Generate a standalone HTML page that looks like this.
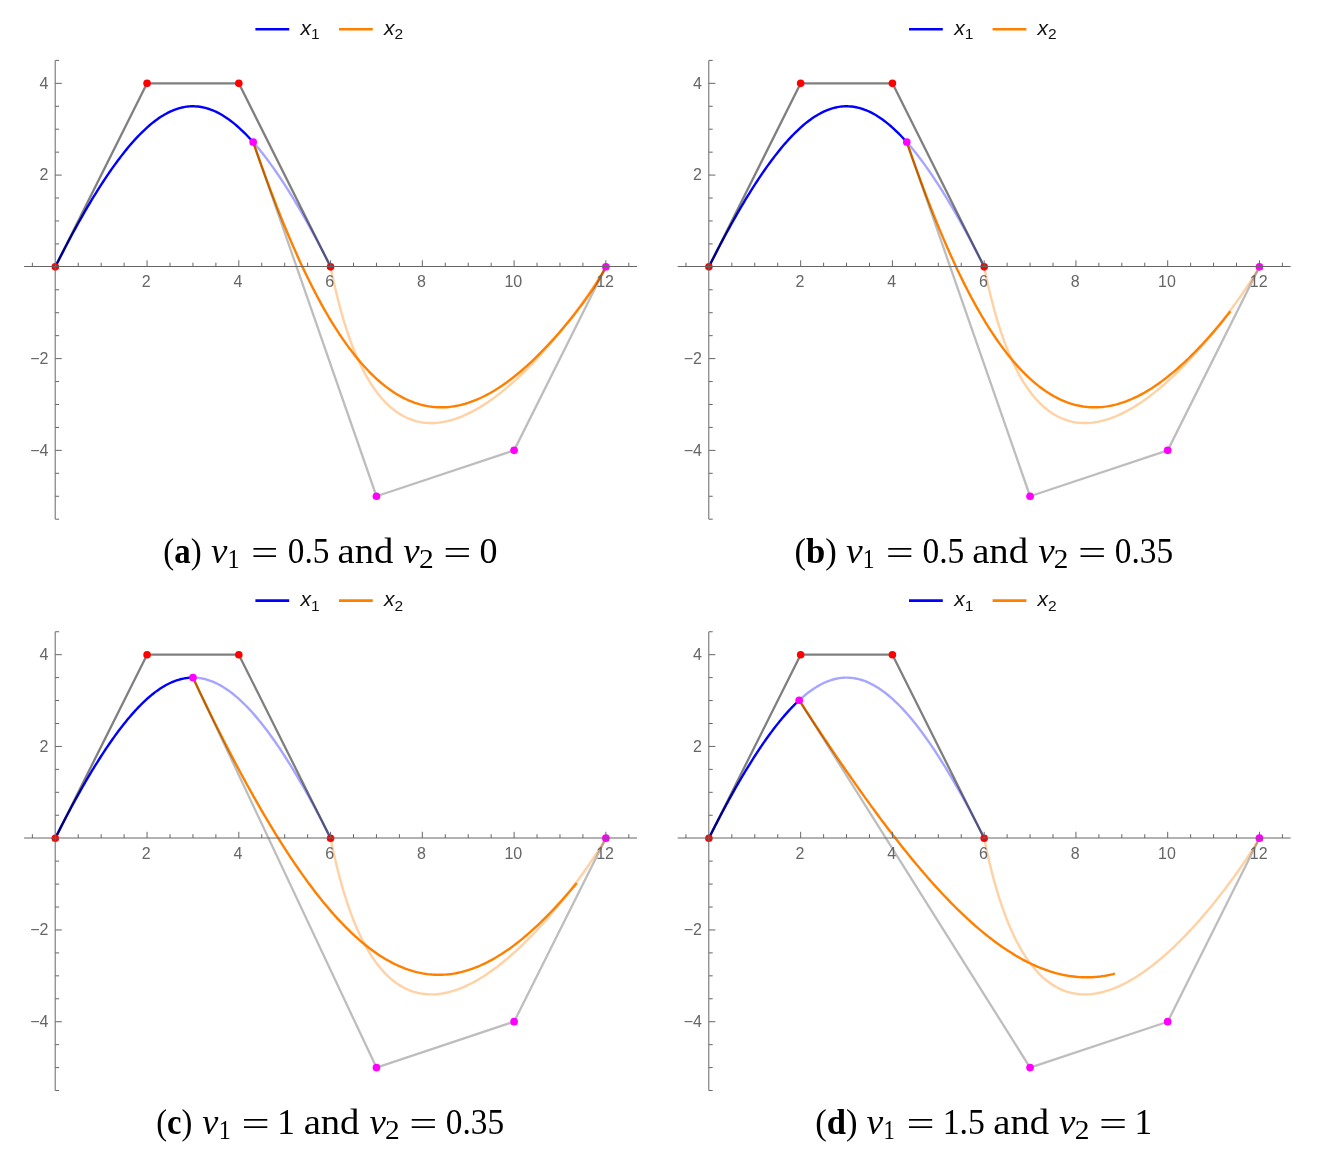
<!DOCTYPE html>
<html><head><meta charset="utf-8"><title>figure</title>
<style>
html,body{margin:0;padding:0;background:#fff}
svg{display:block}
.c{fill:none;stroke-width:2.4;stroke-linejoin:round;stroke-linecap:butt}
.p{fill:none;stroke-width:2.3;stroke-linejoin:round;stroke-linecap:butt}
.tk{font-family:"Liberation Sans",sans-serif;font-size:16px;fill:#666}
.lg{font-family:"Liberation Sans",sans-serif;font-size:21px;font-style:italic;fill:#111}
.lgs{font-size:15.5px;font-style:normal}
.cap{font-family:"Liberation Serif",serif;font-size:35.5px;fill:#000}
.sub{font-size:21px}
</style></head><body>
<svg width="1324" height="1166" viewBox="0 0 1324 1166">
<rect width="1324" height="1166" fill="#fff"/>
<g>
<path d="M253.16 142.11 L253.99 143.06 L254.83 144.03 L255.67 145.01 L256.52 146.00 L257.37 147.01 L258.22 148.03 L259.07 149.06 L259.93 150.11 L260.79 151.17 L261.65 152.25 L262.52 153.34 L263.38 154.45 L264.26 155.57 L265.13 156.71 L266.01 157.86 L266.89 159.03 L267.78 160.21 L268.67 161.41 L269.56 162.62 L270.45 163.84 L271.35 165.09 L272.25 166.34 L273.16 167.62 L274.07 168.91 L274.98 170.21 L275.90 171.53 L276.82 172.87 L277.74 174.22 L278.67 175.59 L279.60 176.97 L280.54 178.37 L281.47 179.79 L282.42 181.22 L283.36 182.67 L284.31 184.14 L285.27 185.62 L286.23 187.13 L287.19 188.64 L288.16 190.18 L289.13 191.73 L290.10 193.30 L291.08 194.88 L292.07 196.49 L293.05 198.11 L294.05 199.75 L295.04 201.41 L296.04 203.08 L297.05 204.77 L298.06 206.48 L299.07 208.21 L300.09 209.96 L301.11 211.73 L302.14 213.51 L303.17 215.32 L304.21 217.14 L305.25 218.98 L306.30 220.84 L307.35 222.72 L308.41 224.62 L309.47 226.54 L310.53 228.48 L311.60 230.43 L312.68 232.41 L313.76 234.41 L314.84 236.43 L315.93 238.46 L317.03 240.52 L318.13 242.60 L319.23 244.70 L320.35 246.82 L321.46 248.96 L322.58 251.12 L323.71 253.30 L324.84 255.51 L325.98 257.73 L327.12 259.98 L328.27 262.25 L329.42 264.54 L330.58 266.85" stroke="#0000ff" stroke-opacity="0.35" class="c"/>
<path d="M55.30 266.85 L57.60 262.27 L59.88 257.77 L62.14 253.36 L64.38 249.03 L66.60 244.79 L68.80 240.63 L70.97 236.55 L73.13 232.55 L75.27 228.62 L77.39 224.78 L79.48 221.01 L81.56 217.32 L83.63 213.71 L85.67 210.17 L87.69 206.70 L89.70 203.31 L91.69 199.98 L93.66 196.73 L95.62 193.55 L97.56 190.44 L99.48 187.39 L101.39 184.41 L103.28 181.50 L105.16 178.66 L107.02 175.88 L108.86 173.16 L110.69 170.51 L112.51 167.92 L114.31 165.39 L116.10 162.93 L117.87 160.52 L119.63 158.17 L121.38 155.89 L123.12 153.66 L124.84 151.49 L126.55 149.38 L128.25 147.32 L129.94 145.32 L131.61 143.38 L133.28 141.49 L134.93 139.66 L136.57 137.88 L138.21 136.15 L139.83 134.48 L141.44 132.85 L143.05 131.28 L144.64 129.77 L146.22 128.30 L147.80 126.88 L149.37 125.52 L150.93 124.20 L152.48 122.93 L154.03 121.71 L155.57 120.54 L157.10 119.42 L158.62 118.35 L160.14 117.32 L161.65 116.34 L163.16 115.41 L164.66 114.53 L166.15 113.69 L167.64 112.89 L169.13 112.15 L170.61 111.44 L172.08 110.79 L173.55 110.18 L175.02 109.61 L176.49 109.09 L177.95 108.61 L179.41 108.18 L180.87 107.79 L182.32 107.45 L183.77 107.15 L185.22 106.89 L186.67 106.68 L188.12 106.51 L189.57 106.39 L191.01 106.31 L192.46 106.27 L193.90 106.28 L195.35 106.33 L196.80 106.43 L198.24 106.56 L199.69 106.75 L201.14 106.97 L202.59 107.24 L204.05 107.56 L205.50 107.92 L206.96 108.32 L208.42 108.77 L209.88 109.26 L211.35 109.79 L212.82 110.37 L214.29 111.00 L215.77 111.67 L217.25 112.39 L218.74 113.15 L220.23 113.96 L221.72 114.82 L223.23 115.72 L224.73 116.66 L226.25 117.66 L227.77 118.70 L229.29 119.79 L230.83 120.93 L232.37 122.11 L233.91 123.35 L235.47 124.63 L237.03 125.97 L238.60 127.35 L240.18 128.78 L241.77 130.27 L243.37 131.80 L244.98 133.39 L246.59 135.03 L248.22 136.72 L249.85 138.46 L251.50 140.26 L253.16 142.11" stroke="#0000ff" class="c"/>
<path d="M330.58 266.85 L331.64 272.04 L332.72 277.16 L333.82 282.19 L334.94 287.15 L336.09 292.03 L337.26 296.83 L338.45 301.55 L339.67 306.18 L340.90 310.73 L342.17 315.20 L343.45 319.59 L344.76 323.89 L346.10 328.10 L347.45 332.22 L348.83 336.26 L350.24 340.21 L351.67 344.07 L353.12 347.85 L354.59 351.53 L356.09 355.12 L357.62 358.62 L359.16 362.03 L360.74 365.35 L362.33 368.58 L363.95 371.71 L365.59 374.76 L367.26 377.70 L368.94 380.56 L370.66 383.32 L372.39 385.99 L374.15 388.57 L375.93 391.05 L377.74 393.44 L379.56 395.73 L381.41 397.93 L383.28 400.03 L385.17 402.05 L387.09 403.96 L389.02 405.79 L390.98 407.52 L392.96 409.16 L394.96 410.70 L396.98 412.15 L399.02 413.51 L401.08 414.78 L403.15 415.95 L405.25 417.03 L407.37 418.02 L409.51 418.93 L411.66 419.74 L413.83 420.46 L416.02 421.09 L418.23 421.63 L420.45 422.08 L422.69 422.45 L424.94 422.73 L427.21 422.92 L429.50 423.03 L431.80 423.05 L434.11 422.99 L436.44 422.85 L438.78 422.62 L441.13 422.31 L443.49 421.92 L445.87 421.45 L448.26 420.91 L450.65 420.28 L453.06 419.58 L455.48 418.81 L457.90 417.96 L460.33 417.03 L462.77 416.04 L465.22 414.97 L467.67 413.84 L470.13 412.63 L472.60 411.36 L475.06 410.02 L477.53 408.62 L480.01 407.16 L482.48 405.63 L484.96 404.05 L487.44 402.40 L489.91 400.70 L492.39 398.95 L494.87 397.13 L497.34 395.27 L499.81 393.36 L502.27 391.40 L504.73 389.39 L507.19 387.33 L509.64 385.24 L512.08 383.10 L514.51 380.92 L516.93 378.70 L519.35 376.45 L521.75 374.16 L524.14 371.84 L526.52 369.49 L528.88 367.11 L531.23 364.70 L533.57 362.27 L535.89 359.82 L538.19 357.35 L540.47 354.87 L542.73 352.36 L544.98 349.85 L547.20 347.32 L549.40 344.79 L551.57 342.24 L553.72 339.70 L555.85 337.15 L557.95 334.61 L560.02 332.07 L562.06 329.54 L564.07 327.01 L566.05 324.50 L568.00 322.00 L569.91 319.52 L571.79 317.05 L573.64 314.61 L575.44 312.19 L577.21 309.81 L578.94 307.45 L580.63 305.12 L582.28 302.84 L583.88 300.59 L585.44 298.38 L586.96 296.22 L588.43 294.10 L589.85 292.04 L591.21 290.03 L592.53 288.08 L593.80 286.19 L595.01 284.36 L596.17 282.60 L597.28 280.91 L598.32 279.30 L599.31 277.76 L600.23 276.30 L601.10 274.92 L601.90 273.63 L602.63 272.43 L603.30 271.32 L603.91 270.31 L604.44 269.41 L604.91 268.60 L605.30 267.91 L605.62 267.32 L605.86 266.85" stroke="#ff8000" stroke-opacity="0.36" class="c"/>
<path d="M253.16 142.10 L255.13 147.76 L257.15 153.48 L259.19 159.26 L261.27 165.07 L263.38 170.92 L265.53 176.80 L267.70 182.70 L269.91 188.61 L272.14 194.53 L274.40 200.44 L276.69 206.35 L279.01 212.24 L281.35 218.11 L283.72 223.96 L286.12 229.77 L288.54 235.55 L290.98 241.28 L293.44 246.97 L295.93 252.60 L298.44 258.17 L300.97 263.68 L303.52 269.13 L306.09 274.50 L308.67 279.80 L311.28 285.02 L313.90 290.16 L316.54 295.22 L319.20 300.18 L321.87 305.05 L324.55 309.83 L327.25 314.51 L329.97 319.08 L332.69 323.56 L335.43 327.93 L338.18 332.19 L340.94 336.35 L343.71 340.39 L346.50 344.32 L349.29 348.13 L352.09 351.83 L354.90 355.42 L357.71 358.88 L360.54 362.23 L363.36 365.45 L366.20 368.56 L369.04 371.54 L371.89 374.40 L374.74 377.15 L377.59 379.76 L380.45 382.26 L383.31 384.63 L386.17 386.88 L389.04 389.01 L391.91 391.02 L394.77 392.91 L397.64 394.67 L400.51 396.32 L403.37 397.85 L406.24 399.25 L409.10 400.54 L411.96 401.72 L414.82 402.78 L417.68 403.72 L420.53 404.55 L423.38 405.27 L426.22 405.88 L429.06 406.38 L431.89 406.77 L434.72 407.06 L437.54 407.24 L440.35 407.32 L443.16 407.30 L445.96 407.18 L448.75 406.96 L451.53 406.65 L454.31 406.24 L457.07 405.74 L459.83 405.16 L462.57 404.49 L465.31 403.73 L468.03 402.89 L470.74 401.97 L473.44 400.97 L476.13 399.90 L478.80 398.75 L481.47 397.53 L484.11 396.24 L486.75 394.89 L489.37 393.47 L491.97 391.98 L494.56 390.44 L497.14 388.85 L499.70 387.19 L502.24 385.49 L504.77 383.73 L507.28 381.93 L509.77 380.08 L512.24 378.19 L514.70 376.26 L517.14 374.29 L519.55 372.28 L521.95 370.24 L524.33 368.17 L526.69 366.07 L529.03 363.94 L531.35 361.78 L533.64 359.61 L535.92 357.41 L538.17 355.19 L540.40 352.96 L542.61 350.71 L544.79 348.45 L546.95 346.18 L549.09 343.90 L551.20 341.61 L553.29 339.32 L555.35 337.02 L557.39 334.72 L559.40 332.42 L561.39 330.12 L563.35 327.82 L565.28 325.53 L567.18 323.23 L569.06 320.95 L570.91 318.67 L572.73 316.39 L574.52 314.13 L576.29 311.87 L578.02 309.63 L579.72 307.39 L581.39 305.17 L583.04 302.95 L584.65 300.75 L586.23 298.56 L587.77 296.38 L589.29 294.21 L590.77 292.05 L592.22 289.91 L593.64 287.78 L595.02 285.65 L596.37 283.54 L597.68 281.43 L598.96 279.33 L600.20 277.24 L601.40 275.16 L602.57 273.08 L603.71 271.00 L604.80 268.93 L605.86 266.85" stroke="#ff8000" class="c"/>
<path d="M55.30 266.85 L147.06 83.33 L238.82 83.33 L330.58 266.85" stroke="#000" stroke-opacity="0.5" class="p"/>
<path d="M253.16 142.11 L376.46 496.25 L514.10 450.37 L605.86 266.85" stroke="#000" stroke-opacity="0.26" class="p"/>
<circle cx="55.30" cy="266.85" r="3.8" fill="#f00"/>
<circle cx="147.06" cy="83.33" r="3.8" fill="#f00"/>
<circle cx="238.82" cy="83.33" r="3.8" fill="#f00"/>
<circle cx="330.58" cy="266.85" r="3.8" fill="#f00"/>
<circle cx="253.16" cy="142.11" r="3.85" fill="#f0f"/>
<circle cx="376.46" cy="496.25" r="3.85" fill="#f0f"/>
<circle cx="514.10" cy="450.37" r="3.85" fill="#f0f"/>
<circle cx="605.86" cy="266.85" r="3.85" fill="#f0f"/>
<path d="M24.10 266.50H637.06M55.20 60.39V519.19M32.36 266.50v-3.80M78.24 266.50v-3.80M101.18 266.50v-3.80M124.12 266.50v-3.80M147.06 266.50v-6.20M170.00 266.50v-3.80M192.94 266.50v-3.80M215.88 266.50v-3.80M238.82 266.50v-6.20M261.76 266.50v-3.80M284.70 266.50v-3.80M307.64 266.50v-3.80M330.58 266.50v-6.20M353.52 266.50v-3.80M376.46 266.50v-3.80M399.40 266.50v-3.80M422.34 266.50v-6.20M445.28 266.50v-3.80M468.22 266.50v-3.80M491.16 266.50v-3.80M514.10 266.50v-6.20M537.04 266.50v-3.80M559.98 266.50v-3.80M582.92 266.50v-3.80M605.86 266.50v-6.20M628.80 266.50v-3.80M55.30 519.19h3.80M55.30 496.25h3.80M55.30 473.31h3.80M55.30 450.37h6.50M55.30 427.43h3.80M55.30 404.49h3.80M55.30 381.55h3.80M55.30 358.61h6.50M55.30 335.67h3.80M55.30 312.73h3.80M55.30 289.79h3.80M55.30 243.91h3.80M55.30 220.97h3.80M55.30 198.03h3.80M55.30 175.09h6.50M55.30 152.15h3.80M55.30 129.21h3.80M55.30 106.27h3.80M55.30 83.33h6.50M55.30 60.39h3.80" stroke="#666" stroke-width="1" fill="none"/>
<text x="146.26" y="287.15" text-anchor="middle" class="tk">2</text>
<text x="238.02" y="287.15" text-anchor="middle" class="tk">4</text>
<text x="329.78" y="287.15" text-anchor="middle" class="tk">6</text>
<text x="421.54" y="287.15" text-anchor="middle" class="tk">8</text>
<text x="513.30" y="287.15" text-anchor="middle" class="tk">10</text>
<text x="605.06" y="287.15" text-anchor="middle" class="tk">12</text>
<text x="48.40" y="88.63" text-anchor="end" class="tk">4</text>
<text x="48.40" y="180.39" text-anchor="end" class="tk">2</text>
<text x="48.40" y="363.91" text-anchor="end" class="tk">−2</text>
<text x="48.40" y="455.67" text-anchor="end" class="tk">−4</text>
<path d="M255.40 29.25h33.8" stroke="#0000ff" stroke-width="2.6" fill="none"/>
<path d="M339.00 29.25h33.8" stroke="#ff8000" stroke-width="2.6" fill="none"/>
<text x="300.60" y="35.05" class="lg">x<tspan class="lgs" dy="4.2">1</tspan></text>
<text x="384.00" y="35.05" class="lg">x<tspan class="lgs" dy="4.2">2</tspan></text>
<text x="163.32" y="562.70" textLength="38.29" lengthAdjust="spacingAndGlyphs" class="cap">(<tspan font-weight="bold">a</tspan>)</text>
<text x="210.95" y="562.70" textLength="16.41" lengthAdjust="spacingAndGlyphs" class="cap" font-style="italic">v</text>
<text x="227.59" y="568.10" textLength="12.06" lengthAdjust="spacingAndGlyphs" class="cap" style="font-size:27.8px">1</text>
<text x="251.07" y="564.70" textLength="27.41" lengthAdjust="spacingAndGlyphs" class="cap">=</text>
<text x="287.85" y="562.70" textLength="41.58" lengthAdjust="spacingAndGlyphs" class="cap">0.5</text>
<text x="337.55" y="562.70" textLength="55.79" lengthAdjust="spacingAndGlyphs" class="cap">and</text>
<text x="403.35" y="562.70" textLength="16.41" lengthAdjust="spacingAndGlyphs" class="cap" font-style="italic">v</text>
<text x="418.97" y="568.10" textLength="14.75" lengthAdjust="spacingAndGlyphs" class="cap" style="font-size:27.8px">2</text>
<text x="443.21" y="564.70" textLength="28.14" lengthAdjust="spacingAndGlyphs" class="cap">=</text>
<text x="479.45" y="562.70" textLength="18.00" lengthAdjust="spacingAndGlyphs" class="cap">0</text>
</g>
<g>
<path d="M906.76 142.11 L907.59 143.06 L908.43 144.03 L909.27 145.01 L910.12 146.00 L910.97 147.01 L911.82 148.03 L912.67 149.06 L913.53 150.11 L914.39 151.17 L915.25 152.25 L916.12 153.34 L916.98 154.45 L917.86 155.57 L918.73 156.71 L919.61 157.86 L920.49 159.03 L921.38 160.21 L922.27 161.41 L923.16 162.62 L924.05 163.84 L924.95 165.09 L925.85 166.34 L926.76 167.62 L927.67 168.91 L928.58 170.21 L929.50 171.53 L930.42 172.87 L931.34 174.22 L932.27 175.59 L933.20 176.97 L934.14 178.37 L935.07 179.79 L936.02 181.22 L936.96 182.67 L937.91 184.14 L938.87 185.62 L939.83 187.13 L940.79 188.64 L941.76 190.18 L942.73 191.73 L943.70 193.30 L944.68 194.88 L945.67 196.49 L946.65 198.11 L947.65 199.75 L948.64 201.41 L949.64 203.08 L950.65 204.77 L951.66 206.48 L952.67 208.21 L953.69 209.96 L954.71 211.73 L955.74 213.51 L956.77 215.32 L957.81 217.14 L958.85 218.98 L959.90 220.84 L960.95 222.72 L962.01 224.62 L963.07 226.54 L964.13 228.48 L965.20 230.43 L966.28 232.41 L967.36 234.41 L968.44 236.43 L969.53 238.46 L970.63 240.52 L971.73 242.60 L972.83 244.70 L973.95 246.82 L975.06 248.96 L976.18 251.12 L977.31 253.30 L978.44 255.51 L979.58 257.73 L980.72 259.98 L981.87 262.25 L983.02 264.54 L984.18 266.85" stroke="#0000ff" stroke-opacity="0.35" class="c"/>
<path d="M708.90 266.85 L711.20 262.27 L713.48 257.77 L715.74 253.36 L717.98 249.03 L720.20 244.79 L722.40 240.63 L724.57 236.55 L726.73 232.55 L728.87 228.62 L730.99 224.78 L733.08 221.01 L735.16 217.32 L737.23 213.71 L739.27 210.17 L741.29 206.70 L743.30 203.31 L745.29 199.98 L747.26 196.73 L749.22 193.55 L751.16 190.44 L753.08 187.39 L754.99 184.41 L756.88 181.50 L758.76 178.66 L760.62 175.88 L762.46 173.16 L764.29 170.51 L766.11 167.92 L767.91 165.39 L769.70 162.93 L771.47 160.52 L773.23 158.17 L774.98 155.89 L776.72 153.66 L778.44 151.49 L780.15 149.38 L781.85 147.32 L783.54 145.32 L785.21 143.38 L786.88 141.49 L788.53 139.66 L790.17 137.88 L791.81 136.15 L793.43 134.48 L795.04 132.85 L796.65 131.28 L798.24 129.77 L799.82 128.30 L801.40 126.88 L802.97 125.52 L804.53 124.20 L806.08 122.93 L807.63 121.71 L809.17 120.54 L810.70 119.42 L812.22 118.35 L813.74 117.32 L815.25 116.34 L816.76 115.41 L818.26 114.53 L819.75 113.69 L821.24 112.89 L822.73 112.15 L824.21 111.44 L825.68 110.79 L827.15 110.18 L828.62 109.61 L830.09 109.09 L831.55 108.61 L833.01 108.18 L834.47 107.79 L835.92 107.45 L837.37 107.15 L838.82 106.89 L840.27 106.68 L841.72 106.51 L843.17 106.39 L844.61 106.31 L846.06 106.27 L847.50 106.28 L848.95 106.33 L850.40 106.43 L851.84 106.56 L853.29 106.75 L854.74 106.97 L856.19 107.24 L857.65 107.56 L859.10 107.92 L860.56 108.32 L862.02 108.77 L863.48 109.26 L864.95 109.79 L866.42 110.37 L867.89 111.00 L869.37 111.67 L870.85 112.39 L872.34 113.15 L873.83 113.96 L875.32 114.82 L876.83 115.72 L878.33 116.66 L879.85 117.66 L881.37 118.70 L882.89 119.79 L884.43 120.93 L885.97 122.11 L887.51 123.35 L889.07 124.63 L890.63 125.97 L892.20 127.35 L893.78 128.78 L895.37 130.27 L896.97 131.80 L898.58 133.39 L900.19 135.03 L901.82 136.72 L903.45 138.46 L905.10 140.26 L906.76 142.11" stroke="#0000ff" class="c"/>
<path d="M984.18 266.85 L985.24 272.04 L986.32 277.16 L987.42 282.19 L988.54 287.15 L989.69 292.03 L990.86 296.83 L992.05 301.55 L993.27 306.18 L994.50 310.73 L995.77 315.20 L997.05 319.59 L998.36 323.89 L999.70 328.10 L1001.05 332.22 L1002.43 336.26 L1003.84 340.21 L1005.27 344.07 L1006.72 347.85 L1008.19 351.53 L1009.69 355.12 L1011.22 358.62 L1012.76 362.03 L1014.34 365.35 L1015.93 368.58 L1017.55 371.71 L1019.19 374.76 L1020.86 377.70 L1022.54 380.56 L1024.26 383.32 L1025.99 385.99 L1027.75 388.57 L1029.53 391.05 L1031.34 393.44 L1033.16 395.73 L1035.01 397.93 L1036.88 400.03 L1038.77 402.05 L1040.69 403.96 L1042.62 405.79 L1044.58 407.52 L1046.56 409.16 L1048.56 410.70 L1050.58 412.15 L1052.62 413.51 L1054.68 414.78 L1056.75 415.95 L1058.85 417.03 L1060.97 418.02 L1063.11 418.93 L1065.26 419.74 L1067.43 420.46 L1069.62 421.09 L1071.83 421.63 L1074.05 422.08 L1076.29 422.45 L1078.54 422.73 L1080.81 422.92 L1083.10 423.03 L1085.40 423.05 L1087.71 422.99 L1090.04 422.85 L1092.38 422.62 L1094.73 422.31 L1097.09 421.92 L1099.47 421.45 L1101.86 420.91 L1104.25 420.28 L1106.66 419.58 L1109.08 418.81 L1111.50 417.96 L1113.93 417.03 L1116.37 416.04 L1118.82 414.97 L1121.27 413.84 L1123.73 412.63 L1126.20 411.36 L1128.66 410.02 L1131.13 408.62 L1133.61 407.16 L1136.08 405.63 L1138.56 404.05 L1141.04 402.40 L1143.51 400.70 L1145.99 398.95 L1148.47 397.13 L1150.94 395.27 L1153.41 393.36 L1155.87 391.40 L1158.33 389.39 L1160.79 387.33 L1163.24 385.24 L1165.68 383.10 L1168.11 380.92 L1170.53 378.70 L1172.95 376.45 L1175.35 374.16 L1177.74 371.84 L1180.12 369.49 L1182.48 367.11 L1184.83 364.70 L1187.17 362.27 L1189.49 359.82 L1191.79 357.35 L1194.07 354.87 L1196.33 352.36 L1198.58 349.85 L1200.80 347.32 L1203.00 344.79 L1205.17 342.24 L1207.32 339.70 L1209.45 337.15 L1211.55 334.61 L1213.62 332.07 L1215.66 329.54 L1217.67 327.01 L1219.65 324.50 L1221.60 322.00 L1223.51 319.52 L1225.39 317.05 L1227.24 314.61 L1229.04 312.19 L1230.81 309.81 L1232.54 307.45 L1234.23 305.12 L1235.88 302.84 L1237.48 300.59 L1239.04 298.38 L1240.56 296.22 L1242.03 294.10 L1243.45 292.04 L1244.81 290.03 L1246.13 288.08 L1247.40 286.19 L1248.61 284.36 L1249.77 282.60 L1250.88 280.91 L1251.92 279.30 L1252.91 277.76 L1253.83 276.30 L1254.70 274.92 L1255.50 273.63 L1256.23 272.43 L1256.90 271.32 L1257.51 270.31 L1258.04 269.41 L1258.51 268.60 L1258.90 267.91 L1259.22 267.32 L1259.46 266.85" stroke="#ff8000" stroke-opacity="0.36" class="c"/>
<path d="M906.76 142.10 L908.46 146.97 L910.18 151.89 L911.93 156.84 L913.71 161.83 L915.51 166.85 L917.34 171.90 L919.18 176.96 L921.06 182.04 L922.95 187.12 L924.86 192.21 L926.80 197.31 L928.76 202.40 L930.74 207.48 L932.73 212.55 L934.75 217.61 L936.79 222.65 L938.84 227.66 L940.92 232.65 L943.01 237.61 L945.12 242.53 L947.24 247.42 L949.38 252.27 L951.54 257.07 L953.71 261.83 L955.90 266.54 L958.10 271.21 L960.32 275.81 L962.55 280.36 L964.79 284.86 L967.05 289.29 L969.32 293.66 L971.60 297.96 L973.89 302.19 L976.20 306.36 L978.51 310.46 L980.84 314.48 L983.17 318.43 L985.52 322.30 L987.87 326.09 L990.23 329.81 L992.61 333.45 L994.98 337.00 L997.37 340.47 L999.77 343.86 L1002.17 347.16 L1004.58 350.38 L1006.99 353.51 L1009.41 356.56 L1011.84 359.51 L1014.27 362.38 L1016.71 365.16 L1019.15 367.85 L1021.59 370.45 L1024.04 372.96 L1026.49 375.38 L1028.95 377.71 L1031.40 379.95 L1033.87 382.10 L1036.33 384.16 L1038.79 386.13 L1041.26 388.00 L1043.72 389.79 L1046.19 391.49 L1048.66 393.09 L1051.13 394.61 L1053.60 396.04 L1056.07 397.38 L1058.53 398.63 L1061.00 399.79 L1063.46 400.87 L1065.93 401.86 L1068.39 402.77 L1070.85 403.59 L1073.30 404.32 L1075.76 404.98 L1078.21 405.55 L1080.65 406.04 L1083.09 406.45 L1085.53 406.78 L1087.97 407.03 L1090.40 407.20 L1092.82 407.30 L1095.24 407.32 L1097.66 407.27 L1100.07 407.14 L1102.47 406.95 L1104.86 406.68 L1107.25 406.34 L1109.64 405.94 L1112.01 405.47 L1114.38 404.94 L1116.74 404.34 L1119.09 403.67 L1121.44 402.95 L1123.77 402.17 L1126.10 401.33 L1128.42 400.43 L1130.73 399.48 L1133.03 398.47 L1135.32 397.41 L1137.60 396.30 L1139.87 395.14 L1142.13 393.93 L1144.37 392.68 L1146.61 391.38 L1148.84 390.03 L1151.05 388.65 L1153.25 387.22 L1155.44 385.76 L1157.62 384.26 L1159.79 382.72 L1161.94 381.15 L1164.08 379.54 L1166.21 377.91 L1168.32 376.24 L1170.42 374.54 L1172.51 372.82 L1174.58 371.08 L1176.63 369.30 L1178.67 367.51 L1180.70 365.70 L1182.71 363.86 L1184.71 362.01 L1186.69 360.14 L1188.65 358.25 L1190.60 356.35 L1192.53 354.44 L1194.45 352.51 L1196.35 350.57 L1198.23 348.63 L1200.09 346.67 L1201.93 344.71 L1203.76 342.74 L1205.57 340.77 L1207.36 338.80 L1209.14 336.82 L1210.89 334.84 L1212.62 332.86 L1214.34 330.88 L1216.04 328.89 L1217.71 326.92 L1219.37 324.94 L1221.00 322.97 L1222.62 321.00 L1224.21 319.04 L1225.79 317.08 L1227.34 315.12 L1228.87 313.18 L1230.38 311.24" stroke="#ff8000" class="c"/>
<path d="M708.90 266.85 L800.66 83.33 L892.42 83.33 L984.18 266.85" stroke="#000" stroke-opacity="0.5" class="p"/>
<path d="M906.76 142.11 L1030.06 496.25 L1167.70 450.37 L1259.46 266.85" stroke="#000" stroke-opacity="0.26" class="p"/>
<circle cx="708.90" cy="266.85" r="3.8" fill="#f00"/>
<circle cx="800.66" cy="83.33" r="3.8" fill="#f00"/>
<circle cx="892.42" cy="83.33" r="3.8" fill="#f00"/>
<circle cx="984.18" cy="266.85" r="3.8" fill="#f00"/>
<circle cx="906.76" cy="142.11" r="3.85" fill="#f0f"/>
<circle cx="1030.06" cy="496.25" r="3.85" fill="#f0f"/>
<circle cx="1167.70" cy="450.37" r="3.85" fill="#f0f"/>
<circle cx="1259.46" cy="266.85" r="3.85" fill="#f0f"/>
<path d="M677.70 266.50H1290.66M708.80 60.39V519.19M685.96 266.50v-3.80M731.84 266.50v-3.80M754.78 266.50v-3.80M777.72 266.50v-3.80M800.66 266.50v-6.20M823.60 266.50v-3.80M846.54 266.50v-3.80M869.48 266.50v-3.80M892.42 266.50v-6.20M915.36 266.50v-3.80M938.30 266.50v-3.80M961.24 266.50v-3.80M984.18 266.50v-6.20M1007.12 266.50v-3.80M1030.06 266.50v-3.80M1053.00 266.50v-3.80M1075.94 266.50v-6.20M1098.88 266.50v-3.80M1121.82 266.50v-3.80M1144.76 266.50v-3.80M1167.70 266.50v-6.20M1190.64 266.50v-3.80M1213.58 266.50v-3.80M1236.52 266.50v-3.80M1259.46 266.50v-6.20M1282.40 266.50v-3.80M708.90 519.19h3.80M708.90 496.25h3.80M708.90 473.31h3.80M708.90 450.37h6.50M708.90 427.43h3.80M708.90 404.49h3.80M708.90 381.55h3.80M708.90 358.61h6.50M708.90 335.67h3.80M708.90 312.73h3.80M708.90 289.79h3.80M708.90 243.91h3.80M708.90 220.97h3.80M708.90 198.03h3.80M708.90 175.09h6.50M708.90 152.15h3.80M708.90 129.21h3.80M708.90 106.27h3.80M708.90 83.33h6.50M708.90 60.39h3.80" stroke="#666" stroke-width="1" fill="none"/>
<text x="799.86" y="287.15" text-anchor="middle" class="tk">2</text>
<text x="891.62" y="287.15" text-anchor="middle" class="tk">4</text>
<text x="983.38" y="287.15" text-anchor="middle" class="tk">6</text>
<text x="1075.14" y="287.15" text-anchor="middle" class="tk">8</text>
<text x="1166.90" y="287.15" text-anchor="middle" class="tk">10</text>
<text x="1258.66" y="287.15" text-anchor="middle" class="tk">12</text>
<text x="702.00" y="88.63" text-anchor="end" class="tk">4</text>
<text x="702.00" y="180.39" text-anchor="end" class="tk">2</text>
<text x="702.00" y="363.91" text-anchor="end" class="tk">−2</text>
<text x="702.00" y="455.67" text-anchor="end" class="tk">−4</text>
<path d="M909.00 29.25h33.8" stroke="#0000ff" stroke-width="2.6" fill="none"/>
<path d="M992.60 29.25h33.8" stroke="#ff8000" stroke-width="2.6" fill="none"/>
<text x="954.20" y="35.05" class="lg">x<tspan class="lgs" dy="4.2">1</tspan></text>
<text x="1037.60" y="35.05" class="lg">x<tspan class="lgs" dy="4.2">2</tspan></text>
<text x="794.44" y="562.70" textLength="42.35" lengthAdjust="spacingAndGlyphs" class="cap">(<tspan font-weight="bold">b</tspan>)</text>
<text x="846.03" y="562.70" textLength="16.72" lengthAdjust="spacingAndGlyphs" class="cap" font-style="italic">v</text>
<text x="862.74" y="568.10" textLength="11.77" lengthAdjust="spacingAndGlyphs" class="cap" style="font-size:27.8px">1</text>
<text x="885.72" y="564.70" textLength="28.02" lengthAdjust="spacingAndGlyphs" class="cap">=</text>
<text x="922.44" y="562.70" textLength="41.90" lengthAdjust="spacingAndGlyphs" class="cap">0.5</text>
<text x="972.15" y="562.70" textLength="55.89" lengthAdjust="spacingAndGlyphs" class="cap">and</text>
<text x="1038.35" y="562.70" textLength="16.41" lengthAdjust="spacingAndGlyphs" class="cap" font-style="italic">v</text>
<text x="1053.88" y="568.10" textLength="14.63" lengthAdjust="spacingAndGlyphs" class="cap" style="font-size:27.8px">2</text>
<text x="1077.98" y="564.70" textLength="28.38" lengthAdjust="spacingAndGlyphs" class="cap">=</text>
<text x="1114.75" y="562.70" textLength="58.39" lengthAdjust="spacingAndGlyphs" class="cap">0.35</text>
</g>
<g>
<path d="M192.94 677.62 L194.39 677.64 L195.84 677.71 L197.30 677.82 L198.75 677.97 L200.21 678.17 L201.66 678.41 L203.12 678.70 L204.58 679.03 L206.04 679.41 L207.51 679.83 L208.97 680.30 L210.44 680.81 L211.92 681.36 L213.39 681.97 L214.88 682.61 L216.36 683.30 L217.85 684.04 L219.35 684.83 L220.85 685.66 L222.35 686.54 L223.86 687.46 L225.38 688.43 L226.90 689.45 L228.43 690.52 L229.96 691.63 L231.51 692.80 L233.06 694.01 L234.61 695.27 L236.18 696.58 L237.75 697.95 L239.33 699.36 L240.93 700.82 L242.52 702.34 L244.13 703.90 L245.75 705.52 L247.38 707.19 L249.02 708.92 L250.67 710.69 L252.32 712.53 L253.99 714.41 L255.67 716.36 L257.37 718.36 L259.07 720.41 L260.79 722.52 L262.52 724.69 L264.26 726.92 L266.01 729.21 L267.78 731.56 L269.56 733.97 L271.35 736.44 L273.16 738.97 L274.98 741.56 L276.82 744.22 L278.67 746.94 L280.54 749.72 L282.42 752.57 L284.31 755.49 L286.23 758.48 L288.16 761.53 L290.10 764.65 L292.07 767.84 L294.05 771.10 L296.04 774.43 L298.06 777.83 L300.09 781.31 L302.14 784.86 L304.21 788.49 L306.30 792.19 L308.41 795.97 L310.53 799.83 L312.68 803.76 L314.84 807.78 L317.03 811.87 L319.23 816.05 L321.46 820.31 L323.71 824.65 L325.98 829.08 L328.27 833.60 L330.58 838.20" stroke="#0000ff" stroke-opacity="0.35" class="c"/>
<path d="M55.30 838.20 L56.84 835.14 L58.37 832.11 L59.88 829.12 L61.39 826.17 L62.89 823.26 L64.38 820.38 L65.86 817.54 L67.33 814.74 L68.80 811.98 L70.25 809.25 L71.69 806.55 L73.13 803.90 L74.56 801.27 L75.98 798.68 L77.39 796.13 L78.79 793.61 L80.18 791.13 L81.56 788.67 L82.94 786.26 L84.31 783.87 L85.67 781.52 L87.02 779.20 L88.37 776.91 L89.70 774.66 L91.03 772.43 L92.35 770.24 L93.66 768.08 L94.97 765.95 L96.27 763.85 L97.56 761.79 L98.84 759.75 L100.12 757.74 L101.39 755.76 L102.65 753.82 L103.91 751.90 L105.16 750.01 L106.40 748.15 L107.63 746.31 L108.86 744.51 L110.08 742.74 L111.30 740.99 L112.51 739.27 L113.71 737.58 L114.91 735.91 L116.10 734.28 L117.28 732.66 L118.46 731.08 L119.63 729.52 L120.80 727.99 L121.96 726.49 L123.12 725.01 L124.27 723.56 L125.41 722.13 L126.55 720.73 L127.68 719.35 L128.81 718.00 L129.94 716.67 L131.05 715.37 L132.17 714.09 L133.28 712.84 L134.38 711.61 L135.48 710.41 L136.57 709.23 L137.66 708.07 L138.75 706.94 L139.83 705.83 L140.90 704.74 L141.98 703.67 L143.05 702.63 L144.11 701.62 L145.17 700.62 L146.22 699.65 L147.28 698.70 L148.33 697.77 L149.37 696.87 L150.41 695.98 L151.45 695.12 L152.48 694.28 L153.51 693.46 L154.54 692.67 L155.57 691.89 L156.59 691.14 L157.61 690.41 L158.62 689.70 L159.63 689.01 L160.64 688.34 L161.65 687.69 L162.65 687.07 L163.66 686.46 L164.66 685.88 L165.65 685.31 L166.65 684.77 L167.64 684.24 L168.63 683.74 L169.62 683.26 L170.61 682.79 L171.59 682.35 L172.57 681.93 L173.55 681.53 L174.53 681.14 L175.51 680.78 L176.49 680.44 L177.46 680.12 L178.44 679.81 L179.41 679.53 L180.38 679.27 L181.35 679.02 L182.32 678.80 L183.29 678.59 L184.26 678.41 L185.22 678.24 L186.19 678.10 L187.15 677.97 L188.12 677.86 L189.08 677.78 L190.05 677.71 L191.01 677.66 L191.98 677.63 L192.94 677.62" stroke="#0000ff" class="c"/>
<path d="M330.58 838.20 L331.64 843.39 L332.72 848.51 L333.82 853.54 L334.94 858.50 L336.09 863.38 L337.26 868.18 L338.45 872.90 L339.67 877.53 L340.90 882.08 L342.17 886.55 L343.45 890.94 L344.76 895.24 L346.10 899.45 L347.45 903.57 L348.83 907.61 L350.24 911.56 L351.67 915.42 L353.12 919.20 L354.59 922.88 L356.09 926.47 L357.62 929.97 L359.16 933.38 L360.74 936.70 L362.33 939.93 L363.95 943.06 L365.59 946.11 L367.26 949.05 L368.94 951.91 L370.66 954.67 L372.39 957.34 L374.15 959.92 L375.93 962.40 L377.74 964.79 L379.56 967.08 L381.41 969.28 L383.28 971.38 L385.17 973.40 L387.09 975.31 L389.02 977.14 L390.98 978.87 L392.96 980.51 L394.96 982.05 L396.98 983.50 L399.02 984.86 L401.08 986.13 L403.15 987.30 L405.25 988.38 L407.37 989.37 L409.51 990.28 L411.66 991.09 L413.83 991.81 L416.02 992.44 L418.23 992.98 L420.45 993.43 L422.69 993.80 L424.94 994.08 L427.21 994.27 L429.50 994.38 L431.80 994.40 L434.11 994.34 L436.44 994.20 L438.78 993.97 L441.13 993.66 L443.49 993.27 L445.87 992.80 L448.26 992.26 L450.65 991.63 L453.06 990.93 L455.48 990.16 L457.90 989.31 L460.33 988.38 L462.77 987.39 L465.22 986.32 L467.67 985.19 L470.13 983.98 L472.60 982.71 L475.06 981.37 L477.53 979.97 L480.01 978.51 L482.48 976.98 L484.96 975.40 L487.44 973.75 L489.91 972.05 L492.39 970.30 L494.87 968.48 L497.34 966.62 L499.81 964.71 L502.27 962.75 L504.73 960.74 L507.19 958.68 L509.64 956.59 L512.08 954.45 L514.51 952.27 L516.93 950.05 L519.35 947.80 L521.75 945.51 L524.14 943.19 L526.52 940.84 L528.88 938.46 L531.23 936.05 L533.57 933.62 L535.89 931.17 L538.19 928.70 L540.47 926.22 L542.73 923.71 L544.98 921.20 L547.20 918.67 L549.40 916.14 L551.57 913.59 L553.72 911.05 L555.85 908.50 L557.95 905.96 L560.02 903.42 L562.06 900.89 L564.07 898.36 L566.05 895.85 L568.00 893.35 L569.91 890.87 L571.79 888.40 L573.64 885.96 L575.44 883.54 L577.21 881.16 L578.94 878.80 L580.63 876.47 L582.28 874.19 L583.88 871.94 L585.44 869.73 L586.96 867.57 L588.43 865.45 L589.85 863.39 L591.21 861.38 L592.53 859.43 L593.80 857.54 L595.01 855.71 L596.17 853.95 L597.28 852.26 L598.32 850.65 L599.31 849.11 L600.23 847.65 L601.10 846.27 L601.90 844.98 L602.63 843.78 L603.30 842.67 L603.91 841.66 L604.44 840.76 L604.91 839.95 L605.30 839.26 L605.62 838.67 L605.86 838.20" stroke="#ff8000" stroke-opacity="0.36" class="c"/>
<path d="M192.94 677.62 L196.10 684.30 L199.24 690.90 L202.37 697.42 L205.48 703.86 L208.58 710.21 L211.66 716.48 L214.72 722.67 L217.77 728.78 L220.81 734.81 L223.83 740.76 L226.83 746.63 L229.82 752.41 L232.80 758.12 L235.76 763.75 L238.71 769.30 L241.64 774.76 L244.56 780.15 L247.46 785.46 L250.36 790.69 L253.24 795.85 L256.10 800.92 L258.96 805.92 L261.80 810.84 L264.62 815.68 L267.44 820.44 L270.24 825.13 L273.03 829.74 L275.81 834.27 L278.58 838.72 L281.34 843.10 L284.08 847.41 L286.82 851.63 L289.54 855.79 L292.25 859.86 L294.95 863.86 L297.64 867.79 L300.32 871.64 L302.99 875.42 L305.66 879.12 L308.31 882.75 L310.95 886.30 L313.58 889.78 L316.20 893.19 L318.81 896.53 L321.42 899.79 L324.01 902.97 L326.60 906.09 L329.18 909.13 L331.75 912.11 L334.31 915.00 L336.87 917.83 L339.41 920.59 L341.95 923.27 L344.48 925.89 L347.01 928.43 L349.53 930.90 L352.04 933.31 L354.54 935.64 L357.04 937.90 L359.53 940.09 L362.01 942.22 L364.49 944.27 L366.96 946.26 L369.43 948.17 L371.89 950.02 L374.35 951.80 L376.80 953.51 L379.25 955.15 L381.69 956.73 L384.13 958.24 L386.56 959.68 L388.99 961.05 L391.41 962.36 L393.83 963.60 L396.25 964.77 L398.66 965.88 L401.07 966.92 L403.48 967.90 L405.88 968.81 L408.28 969.65 L410.68 970.43 L413.07 971.15 L415.47 971.80 L417.86 972.39 L420.25 972.91 L422.63 973.37 L425.02 973.76 L427.40 974.09 L429.78 974.36 L432.16 974.57 L434.54 974.71 L436.92 974.79 L439.30 974.80 L441.68 974.76 L444.06 974.65 L446.43 974.48 L448.81 974.25 L451.19 973.96 L453.57 973.61 L455.95 973.20 L458.33 972.72 L460.71 972.19 L463.09 971.59 L465.47 970.94 L467.85 970.22 L470.24 969.45 L472.63 968.62 L475.02 967.73 L477.41 966.77 L479.80 965.76 L482.20 964.70 L484.60 963.57 L487.00 962.39 L489.40 961.14 L491.81 959.85 L494.22 958.49 L496.64 957.07 L499.05 955.60 L501.48 954.08 L503.90 952.49 L506.33 950.85 L508.77 949.16 L511.21 947.41 L513.65 945.60 L516.10 943.74 L518.55 941.82 L521.01 939.85 L523.48 937.82 L525.94 935.74 L528.42 933.60 L530.90 931.41 L533.39 929.17 L535.88 926.87 L538.38 924.52 L540.89 922.12 L543.40 919.66 L545.92 917.16 L548.45 914.59 L550.99 911.98 L553.53 909.32 L556.08 906.60 L558.64 903.83 L561.20 901.01 L563.78 898.14 L566.36 895.22 L568.95 892.24 L571.55 889.22 L574.16 886.15 L576.77 883.02" stroke="#ff8000" class="c"/>
<path d="M55.30 838.20 L147.06 654.68 L238.82 654.68 L330.58 838.20" stroke="#000" stroke-opacity="0.5" class="p"/>
<path d="M192.94 677.62 L376.46 1067.60 L514.10 1021.72 L605.86 838.20" stroke="#000" stroke-opacity="0.26" class="p"/>
<circle cx="55.30" cy="838.20" r="3.8" fill="#f00"/>
<circle cx="147.06" cy="654.68" r="3.8" fill="#f00"/>
<circle cx="238.82" cy="654.68" r="3.8" fill="#f00"/>
<circle cx="330.58" cy="838.20" r="3.8" fill="#f00"/>
<circle cx="192.94" cy="677.62" r="3.85" fill="#f0f"/>
<circle cx="376.46" cy="1067.60" r="3.85" fill="#f0f"/>
<circle cx="514.10" cy="1021.72" r="3.85" fill="#f0f"/>
<circle cx="605.86" cy="838.20" r="3.85" fill="#f0f"/>
<path d="M24.10 838.00H637.06M55.20 631.74V1090.54M32.36 838.00v-3.80M78.24 838.00v-3.80M101.18 838.00v-3.80M124.12 838.00v-3.80M147.06 838.00v-6.20M170.00 838.00v-3.80M192.94 838.00v-3.80M215.88 838.00v-3.80M238.82 838.00v-6.20M261.76 838.00v-3.80M284.70 838.00v-3.80M307.64 838.00v-3.80M330.58 838.00v-6.20M353.52 838.00v-3.80M376.46 838.00v-3.80M399.40 838.00v-3.80M422.34 838.00v-6.20M445.28 838.00v-3.80M468.22 838.00v-3.80M491.16 838.00v-3.80M514.10 838.00v-6.20M537.04 838.00v-3.80M559.98 838.00v-3.80M582.92 838.00v-3.80M605.86 838.00v-6.20M628.80 838.00v-3.80M55.30 1090.54h3.80M55.30 1067.60h3.80M55.30 1044.66h3.80M55.30 1021.72h6.50M55.30 998.78h3.80M55.30 975.84h3.80M55.30 952.90h3.80M55.30 929.96h6.50M55.30 907.02h3.80M55.30 884.08h3.80M55.30 861.14h3.80M55.30 815.26h3.80M55.30 792.32h3.80M55.30 769.38h3.80M55.30 746.44h6.50M55.30 723.50h3.80M55.30 700.56h3.80M55.30 677.62h3.80M55.30 654.68h6.50M55.30 631.74h3.80" stroke="#666" stroke-width="1" fill="none"/>
<text x="146.26" y="858.50" text-anchor="middle" class="tk">2</text>
<text x="238.02" y="858.50" text-anchor="middle" class="tk">4</text>
<text x="329.78" y="858.50" text-anchor="middle" class="tk">6</text>
<text x="421.54" y="858.50" text-anchor="middle" class="tk">8</text>
<text x="513.30" y="858.50" text-anchor="middle" class="tk">10</text>
<text x="605.06" y="858.50" text-anchor="middle" class="tk">12</text>
<text x="48.40" y="659.98" text-anchor="end" class="tk">4</text>
<text x="48.40" y="751.74" text-anchor="end" class="tk">2</text>
<text x="48.40" y="935.26" text-anchor="end" class="tk">−2</text>
<text x="48.40" y="1027.02" text-anchor="end" class="tk">−4</text>
<path d="M255.40 600.60h33.8" stroke="#0000ff" stroke-width="2.6" fill="none"/>
<path d="M339.00 600.60h33.8" stroke="#ff8000" stroke-width="2.6" fill="none"/>
<text x="300.60" y="606.40" class="lg">x<tspan class="lgs" dy="4.2">1</tspan></text>
<text x="384.00" y="606.40" class="lg">x<tspan class="lgs" dy="4.2">2</tspan></text>
<text x="156.24" y="1133.50" textLength="36.06" lengthAdjust="spacingAndGlyphs" class="cap">(<tspan font-weight="bold">c</tspan>)</text>
<text x="202.16" y="1133.50" textLength="16.10" lengthAdjust="spacingAndGlyphs" class="cap" font-style="italic">v</text>
<text x="218.69" y="1138.90" textLength="12.06" lengthAdjust="spacingAndGlyphs" class="cap" style="font-size:27.8px">1</text>
<text x="241.49" y="1135.50" textLength="28.26" lengthAdjust="spacingAndGlyphs" class="cap">=</text>
<text x="277.22" y="1133.50" textLength="17.59" lengthAdjust="spacingAndGlyphs" class="cap">1</text>
<text x="303.65" y="1133.50" textLength="55.79" lengthAdjust="spacingAndGlyphs" class="cap">and</text>
<text x="369.45" y="1133.50" textLength="16.41" lengthAdjust="spacingAndGlyphs" class="cap" font-style="italic">v</text>
<text x="385.07" y="1138.90" textLength="14.75" lengthAdjust="spacingAndGlyphs" class="cap" style="font-size:27.8px">2</text>
<text x="409.31" y="1135.50" textLength="28.14" lengthAdjust="spacingAndGlyphs" class="cap">=</text>
<text x="445.75" y="1133.50" textLength="58.39" lengthAdjust="spacingAndGlyphs" class="cap">0.35</text>
</g>
<g>
<path d="M799.19 700.23 L801.41 698.22 L803.61 696.32 L805.80 694.51 L807.97 692.80 L810.13 691.18 L812.27 689.66 L814.41 688.23 L816.53 686.90 L818.63 685.66 L820.73 684.51 L822.82 683.45 L824.90 682.48 L826.97 681.60 L829.04 680.81 L831.09 680.11 L833.15 679.49 L835.19 678.96 L837.24 678.52 L839.27 678.17 L841.31 677.91 L843.35 677.73 L845.38 677.63 L847.41 677.63 L849.44 677.71 L851.48 677.88 L853.51 678.13 L855.55 678.47 L857.59 678.90 L859.64 679.41 L861.69 680.01 L863.75 680.70 L865.81 681.48 L867.88 682.35 L869.96 683.30 L872.05 684.35 L874.14 685.49 L876.25 686.72 L878.37 688.04 L880.50 689.45 L882.64 690.96 L884.80 692.56 L886.97 694.26 L889.15 696.05 L891.35 697.95 L893.57 699.94 L895.80 702.03 L898.06 704.22 L900.33 706.52 L902.62 708.92 L904.93 711.42 L907.26 714.03 L909.61 716.75 L911.99 719.58 L914.39 722.52 L916.81 725.58 L919.26 728.75 L921.73 732.04 L924.23 735.44 L926.76 738.97 L929.31 742.62 L931.90 746.39 L934.51 750.29 L937.15 754.32 L939.83 758.48 L942.53 762.77 L945.27 767.19 L948.04 771.76 L950.85 776.46 L953.69 781.31 L956.57 786.30 L959.48 791.44 L962.43 796.73 L965.42 802.18 L968.44 807.78 L971.51 813.53 L974.61 819.45 L977.76 825.53 L980.95 831.78 L984.18 838.20" stroke="#0000ff" stroke-opacity="0.35" class="c"/>
<path d="M708.90 838.20 L709.82 836.36 L710.74 834.53 L711.66 832.71 L712.57 830.91 L713.48 829.12 L714.39 827.35 L715.29 825.58 L716.19 823.84 L717.09 822.10 L717.98 820.38 L718.87 818.67 L719.76 816.98 L720.64 815.30 L721.52 813.63 L722.40 811.98 L723.27 810.33 L724.14 808.71 L725.01 807.09 L725.87 805.49 L726.73 803.90 L727.59 802.32 L728.44 800.75 L729.29 799.20 L730.14 797.66 L730.99 796.13 L731.83 794.61 L732.67 793.11 L733.50 791.62 L734.33 790.14 L735.16 788.67 L735.99 787.22 L736.81 785.78 L737.64 784.35 L738.45 782.93 L739.27 781.52 L740.08 780.12 L740.89 778.74 L741.70 777.37 L742.50 776.01 L743.30 774.66 L744.10 773.32 L744.89 771.99 L745.69 770.68 L746.48 769.37 L747.26 768.08 L748.05 766.80 L748.83 765.53 L749.61 764.27 L750.39 763.02 L751.16 761.79 L751.93 760.56 L752.70 759.35 L753.46 758.14 L754.23 756.95 L754.99 755.76 L755.75 754.59 L756.50 753.43 L757.26 752.28 L758.01 751.14 L758.76 750.01 L759.50 748.89 L760.24 747.78 L760.99 746.68 L761.72 745.59 L762.46 744.51 L763.19 743.44 L763.93 742.38 L764.66 741.34 L765.38 740.30 L766.11 739.27 L766.83 738.25 L767.55 737.24 L768.27 736.24 L768.98 735.25 L769.70 734.28 L770.41 733.31 L771.12 732.35 L771.83 731.40 L772.53 730.45 L773.23 729.52 L773.93 728.60 L774.63 727.69 L775.33 726.79 L776.02 725.89 L776.72 725.01 L777.41 724.13 L778.10 723.27 L778.78 722.41 L779.47 721.57 L780.15 720.73 L780.83 719.90 L781.51 719.08 L782.19 718.27 L782.86 717.47 L783.54 716.67 L784.21 715.89 L784.88 715.11 L785.55 714.35 L786.21 713.59 L786.88 712.84 L787.54 712.10 L788.20 711.37 L788.86 710.65 L789.52 709.93 L790.17 709.23 L790.83 708.53 L791.48 707.84 L792.13 707.16 L792.78 706.49 L793.43 705.83 L794.07 705.17 L794.72 704.52 L795.36 703.89 L796.00 703.26 L796.65 702.63 L797.28 702.02 L797.92 701.42 L798.56 700.82 L799.19 700.23" stroke="#0000ff" class="c"/>
<path d="M984.18 838.20 L985.24 843.39 L986.32 848.51 L987.42 853.54 L988.54 858.50 L989.69 863.38 L990.86 868.18 L992.05 872.90 L993.27 877.53 L994.50 882.08 L995.77 886.55 L997.05 890.94 L998.36 895.24 L999.70 899.45 L1001.05 903.57 L1002.43 907.61 L1003.84 911.56 L1005.27 915.42 L1006.72 919.20 L1008.19 922.88 L1009.69 926.47 L1011.22 929.97 L1012.76 933.38 L1014.34 936.70 L1015.93 939.93 L1017.55 943.06 L1019.19 946.11 L1020.86 949.05 L1022.54 951.91 L1024.26 954.67 L1025.99 957.34 L1027.75 959.92 L1029.53 962.40 L1031.34 964.79 L1033.16 967.08 L1035.01 969.28 L1036.88 971.38 L1038.77 973.40 L1040.69 975.31 L1042.62 977.14 L1044.58 978.87 L1046.56 980.51 L1048.56 982.05 L1050.58 983.50 L1052.62 984.86 L1054.68 986.13 L1056.75 987.30 L1058.85 988.38 L1060.97 989.37 L1063.11 990.28 L1065.26 991.09 L1067.43 991.81 L1069.62 992.44 L1071.83 992.98 L1074.05 993.43 L1076.29 993.80 L1078.54 994.08 L1080.81 994.27 L1083.10 994.38 L1085.40 994.40 L1087.71 994.34 L1090.04 994.20 L1092.38 993.97 L1094.73 993.66 L1097.09 993.27 L1099.47 992.80 L1101.86 992.26 L1104.25 991.63 L1106.66 990.93 L1109.08 990.16 L1111.50 989.31 L1113.93 988.38 L1116.37 987.39 L1118.82 986.32 L1121.27 985.19 L1123.73 983.98 L1126.20 982.71 L1128.66 981.37 L1131.13 979.97 L1133.61 978.51 L1136.08 976.98 L1138.56 975.40 L1141.04 973.75 L1143.51 972.05 L1145.99 970.30 L1148.47 968.48 L1150.94 966.62 L1153.41 964.71 L1155.87 962.75 L1158.33 960.74 L1160.79 958.68 L1163.24 956.59 L1165.68 954.45 L1168.11 952.27 L1170.53 950.05 L1172.95 947.80 L1175.35 945.51 L1177.74 943.19 L1180.12 940.84 L1182.48 938.46 L1184.83 936.05 L1187.17 933.62 L1189.49 931.17 L1191.79 928.70 L1194.07 926.22 L1196.33 923.71 L1198.58 921.20 L1200.80 918.67 L1203.00 916.14 L1205.17 913.59 L1207.32 911.05 L1209.45 908.50 L1211.55 905.96 L1213.62 903.42 L1215.66 900.89 L1217.67 898.36 L1219.65 895.85 L1221.60 893.35 L1223.51 890.87 L1225.39 888.40 L1227.24 885.96 L1229.04 883.54 L1230.81 881.16 L1232.54 878.80 L1234.23 876.47 L1235.88 874.19 L1237.48 871.94 L1239.04 869.73 L1240.56 867.57 L1242.03 865.45 L1243.45 863.39 L1244.81 861.38 L1246.13 859.43 L1247.40 857.54 L1248.61 855.71 L1249.77 853.95 L1250.88 852.26 L1251.92 850.65 L1252.91 849.11 L1253.83 847.65 L1254.70 846.27 L1255.50 844.98 L1256.23 843.78 L1256.90 842.67 L1257.51 841.66 L1258.04 840.76 L1258.51 839.95 L1258.90 839.26 L1259.22 838.67 L1259.46 838.20" stroke="#ff8000" stroke-opacity="0.36" class="c"/>
<path d="M799.19 700.24 L801.44 703.70 L803.69 707.16 L805.93 710.60 L808.18 714.03 L810.41 717.44 L812.65 720.85 L814.88 724.24 L817.11 727.61 L819.34 730.98 L821.56 734.33 L823.78 737.66 L826.00 740.98 L828.22 744.29 L830.43 747.58 L832.64 750.86 L834.85 754.12 L837.05 757.37 L839.26 760.61 L841.46 763.82 L843.65 767.02 L845.85 770.21 L848.04 773.38 L850.23 776.53 L852.42 779.67 L854.60 782.79 L856.78 785.89 L858.96 788.98 L861.14 792.04 L863.32 795.10 L865.49 798.13 L867.66 801.14 L869.83 804.14 L871.99 807.12 L874.16 810.08 L876.32 813.02 L878.48 815.94 L880.63 818.84 L882.79 821.73 L884.94 824.59 L887.09 827.43 L889.24 830.26 L891.39 833.06 L893.53 835.85 L895.68 838.61 L897.82 841.35 L899.96 844.07 L902.09 846.77 L904.23 849.45 L906.36 852.11 L908.50 854.74 L910.63 857.35 L912.75 859.94 L914.88 862.51 L917.00 865.06 L919.13 867.58 L921.25 870.08 L923.37 872.56 L925.49 875.01 L927.60 877.44 L929.72 879.84 L931.83 882.22 L933.94 884.58 L936.06 886.91 L938.16 889.22 L940.27 891.50 L942.38 893.76 L944.48 896.00 L946.59 898.20 L948.69 900.38 L950.79 902.54 L952.89 904.67 L954.99 906.77 L957.09 908.85 L959.18 910.90 L961.28 912.92 L963.37 914.92 L965.46 916.88 L967.56 918.82 L969.65 920.74 L971.74 922.62 L973.83 924.48 L975.91 926.31 L978.00 928.11 L980.09 929.88 L982.17 931.62 L984.26 933.34 L986.34 935.02 L988.42 936.67 L990.50 938.30 L992.58 939.89 L994.66 941.46 L996.74 942.99 L998.82 944.49 L1000.90 945.97 L1002.98 947.41 L1005.05 948.82 L1007.13 950.20 L1009.21 951.55 L1011.28 952.86 L1013.36 954.14 L1015.43 955.40 L1017.50 956.62 L1019.58 957.80 L1021.65 958.95 L1023.72 960.08 L1025.80 961.16 L1027.87 962.22 L1029.94 963.24 L1032.01 964.22 L1034.08 965.18 L1036.15 966.09 L1038.22 966.98 L1040.29 967.83 L1042.36 968.64 L1044.43 969.42 L1046.50 970.16 L1048.57 970.87 L1050.64 971.54 L1052.71 972.18 L1054.78 972.78 L1056.85 973.35 L1058.92 973.87 L1060.99 974.36 L1063.06 974.82 L1065.14 975.24 L1067.21 975.62 L1069.28 975.96 L1071.35 976.26 L1073.42 976.53 L1075.49 976.76 L1077.56 976.95 L1079.63 977.10 L1081.71 977.21 L1083.78 977.29 L1085.85 977.32 L1087.93 977.32 L1090.00 977.28 L1092.08 977.19 L1094.15 977.07 L1096.23 976.90 L1098.30 976.70 L1100.38 976.46 L1102.46 976.17 L1104.54 975.84 L1106.62 975.48 L1108.69 975.07 L1110.78 974.62 L1112.86 974.13 L1114.94 973.59" stroke="#ff8000" class="c"/>
<path d="M708.90 838.20 L800.66 654.68 L892.42 654.68 L984.18 838.20" stroke="#000" stroke-opacity="0.5" class="p"/>
<path d="M799.19 700.23 L1030.06 1067.60 L1167.70 1021.72 L1259.46 838.20" stroke="#000" stroke-opacity="0.26" class="p"/>
<circle cx="708.90" cy="838.20" r="3.8" fill="#f00"/>
<circle cx="800.66" cy="654.68" r="3.8" fill="#f00"/>
<circle cx="892.42" cy="654.68" r="3.8" fill="#f00"/>
<circle cx="984.18" cy="838.20" r="3.8" fill="#f00"/>
<circle cx="799.19" cy="700.23" r="3.85" fill="#f0f"/>
<circle cx="1030.06" cy="1067.60" r="3.85" fill="#f0f"/>
<circle cx="1167.70" cy="1021.72" r="3.85" fill="#f0f"/>
<circle cx="1259.46" cy="838.20" r="3.85" fill="#f0f"/>
<path d="M677.70 838.00H1290.66M708.80 631.74V1090.54M685.96 838.00v-3.80M731.84 838.00v-3.80M754.78 838.00v-3.80M777.72 838.00v-3.80M800.66 838.00v-6.20M823.60 838.00v-3.80M846.54 838.00v-3.80M869.48 838.00v-3.80M892.42 838.00v-6.20M915.36 838.00v-3.80M938.30 838.00v-3.80M961.24 838.00v-3.80M984.18 838.00v-6.20M1007.12 838.00v-3.80M1030.06 838.00v-3.80M1053.00 838.00v-3.80M1075.94 838.00v-6.20M1098.88 838.00v-3.80M1121.82 838.00v-3.80M1144.76 838.00v-3.80M1167.70 838.00v-6.20M1190.64 838.00v-3.80M1213.58 838.00v-3.80M1236.52 838.00v-3.80M1259.46 838.00v-6.20M1282.40 838.00v-3.80M708.90 1090.54h3.80M708.90 1067.60h3.80M708.90 1044.66h3.80M708.90 1021.72h6.50M708.90 998.78h3.80M708.90 975.84h3.80M708.90 952.90h3.80M708.90 929.96h6.50M708.90 907.02h3.80M708.90 884.08h3.80M708.90 861.14h3.80M708.90 815.26h3.80M708.90 792.32h3.80M708.90 769.38h3.80M708.90 746.44h6.50M708.90 723.50h3.80M708.90 700.56h3.80M708.90 677.62h3.80M708.90 654.68h6.50M708.90 631.74h3.80" stroke="#666" stroke-width="1" fill="none"/>
<text x="799.86" y="858.50" text-anchor="middle" class="tk">2</text>
<text x="891.62" y="858.50" text-anchor="middle" class="tk">4</text>
<text x="983.38" y="858.50" text-anchor="middle" class="tk">6</text>
<text x="1075.14" y="858.50" text-anchor="middle" class="tk">8</text>
<text x="1166.90" y="858.50" text-anchor="middle" class="tk">10</text>
<text x="1258.66" y="858.50" text-anchor="middle" class="tk">12</text>
<text x="702.00" y="659.98" text-anchor="end" class="tk">4</text>
<text x="702.00" y="751.74" text-anchor="end" class="tk">2</text>
<text x="702.00" y="935.26" text-anchor="end" class="tk">−2</text>
<text x="702.00" y="1027.02" text-anchor="end" class="tk">−4</text>
<path d="M909.00 600.60h33.8" stroke="#0000ff" stroke-width="2.6" fill="none"/>
<path d="M992.60 600.60h33.8" stroke="#ff8000" stroke-width="2.6" fill="none"/>
<text x="954.20" y="606.40" class="lg">x<tspan class="lgs" dy="4.2">1</tspan></text>
<text x="1037.60" y="606.40" class="lg">x<tspan class="lgs" dy="4.2">2</tspan></text>
<text x="815.24" y="1133.50" textLength="42.35" lengthAdjust="spacingAndGlyphs" class="cap">(<tspan font-weight="bold">d</tspan>)</text>
<text x="866.53" y="1133.50" textLength="16.72" lengthAdjust="spacingAndGlyphs" class="cap" font-style="italic">v</text>
<text x="883.51" y="1138.90" textLength="11.35" lengthAdjust="spacingAndGlyphs" class="cap" style="font-size:27.8px">1</text>
<text x="906.41" y="1135.50" textLength="28.14" lengthAdjust="spacingAndGlyphs" class="cap">=</text>
<text x="942.65" y="1133.50" textLength="42.09" lengthAdjust="spacingAndGlyphs" class="cap">1.5</text>
<text x="993.25" y="1133.50" textLength="55.79" lengthAdjust="spacingAndGlyphs" class="cap">and</text>
<text x="1059.05" y="1133.50" textLength="16.41" lengthAdjust="spacingAndGlyphs" class="cap" font-style="italic">v</text>
<text x="1074.67" y="1138.90" textLength="14.75" lengthAdjust="spacingAndGlyphs" class="cap" style="font-size:27.8px">2</text>
<text x="1098.91" y="1135.50" textLength="28.14" lengthAdjust="spacingAndGlyphs" class="cap">=</text>
<text x="1134.52" y="1133.50" textLength="17.59" lengthAdjust="spacingAndGlyphs" class="cap">1</text>
</g>
</svg></body></html>
